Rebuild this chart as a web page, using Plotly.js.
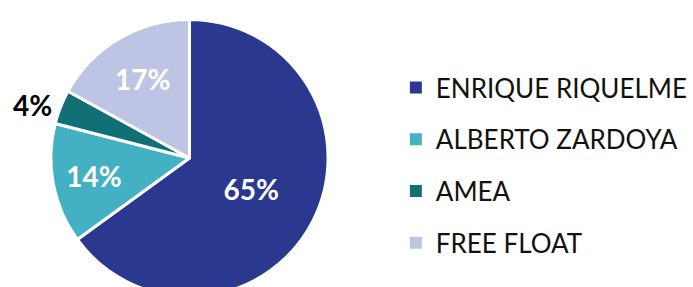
<!DOCTYPE html>
<html>
<head>
<meta charset="utf-8">
<script src="https://cdn.plot.ly/plotly-3.0.1.min.js"></script>
<style>
html,body{margin:0;padding:0;background:#fff;overflow:hidden;width:693px;height:287px;}
#chart{width:693px;height:320px;}
</style>
</head>
<body>
<div id="chart"></div>
<script>
const labels = ["ENRIQUE RIQUELME", "ALBERTO ZARDOYA", "AMEA", "FREE FLOAT"];
const values = [65, 14, 4, 17];
const colors = ["#2B388F", "#43B0C3", "#117075", "#BEC4E3"];
const textPositions = ["inside", "inside", "outside", "inside"];
const textColors = ["#ffffff", "#ffffff", "#000000", "#ffffff"];

const W = 693, H = 320;
const cx = 190, cy = 158, r = 139;

const pie = {
  type: "pie",
  labels: labels,
  values: values,
  sort: false,
  direction: "clockwise",
  rotation: 0,
  marker: {colors: colors, line: {color: "#ffffff", width: 3}},
  textinfo: "percent",
  texttemplate: "%{percent:.0%}",
  textposition: textPositions,
  insidetextorientation: "horizontal",
  textfont: {family: "Lato, sans-serif", size: 28, color: textColors, weight: "bold"},
  hoverinfo: "none",
  showlegend: false,
  domain: {x: [(cx - r) / W, (cx + r) / W], y: [1 - (cy + r) / H, 1 - (cy - r) / H]}
};

const legendTraces = labels.map((lab, i) => ({
  type: "scatter",
  mode: "markers",
  x: [null], y: [null],
  name: lab,
  legendgroup: "g" + i,
  marker: {symbol: "square", size: 12, color: colors[i]},
  hoverinfo: "none"
}));

const layout = {
  width: W, height: H,
  margin: {l: 0, r: 0, t: 0, b: 0},
  paper_bgcolor: "#ffffff",
  plot_bgcolor: "#ffffff",
  xaxis: {visible: false},
  yaxis: {visible: false},
  showlegend: true,
  legend: {
    x: 397 / W, xanchor: "left",
    y: 1 - 64 / H, yanchor: "top",
    font: {family: "Lato, sans-serif", size: 26, color: "#111111"},
    tracegroupgap: 15,
    traceorder: "grouped",
    bgcolor: "rgba(0,0,0,0)"
  }
};

Plotly.newPlot("chart", [pie].concat(legendTraces), layout, {displayModeBar: false, staticPlot: true});
</script>
</body>
</html>
